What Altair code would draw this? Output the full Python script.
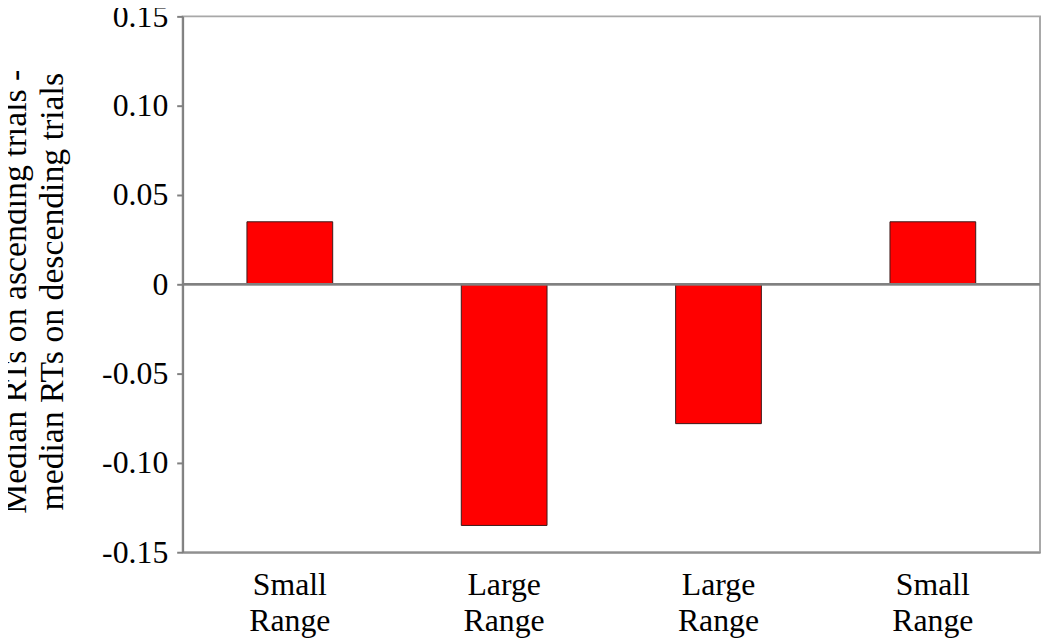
import json
import altair as alt
import pandas as pd

categories = ["Small Range", "Large Range", "Large Range", "Small Range"]
values = [0.035, -0.135, -0.078, 0.035]
y_ticks = [0.15, 0.10, 0.05, 0, -0.05, -0.10, -0.15]

df = pd.DataFrame({"idx": list(range(len(categories))), "cat": categories, "value": values})

label_arr = json.dumps([c.split(" ") for c in categories])
FONT = "Liberation Serif, Times New Roman, serif"

x_axis = alt.Axis(
    title=None,
    labelAngle=0,
    labelExpr=f"{label_arr}[datum.value]",
    labelFont=FONT,
    labelFontSize=32,
    labelColor="#000",
    labelLineHeight=36,
    labelPadding=18,
    labelBaseline="top",
    ticks=False,
    domainColor="#909090",
    domainWidth=2,
)

y_axis = alt.Axis(
    title=["Median RTs on ascending trials -", "median RTs on descending trials"],
    values=y_ticks,
    labelExpr="datum.value == 0 ? '0' : replace(format(datum.value, '.2f'), '\u2212', '-')",
    labelFont=FONT,
    labelFontSize=32,
    labelColor="#000",
    labelPadding=9,
    tickSize=6,
    tickColor="#808080",
    tickWidth=2,
    domainColor="#808080",
    domainWidth=2,
    grid=False,
    titleFont=FONT,
    titleFontSize=34,
    titleFontWeight="normal",
    titleColor="#000",
    titleLineHeight=37,
    titleAngle=270,
    titleAlign="center",
    titleBaseline="alphabetic",
    titleX=-158,
    titleY=277,
)

bars = alt.Chart(df).mark_bar(color="#ff0000", stroke="#3a1a1a", strokeWidth=1).encode(
    x=alt.X("idx:O", axis=x_axis, scale=alt.Scale(paddingInner=0.6, paddingOuter=0.3)),
    y=alt.Y("value:Q", axis=y_axis, scale=alt.Scale(domain=[-0.15, 0.15], nice=False)),
)

zero = alt.Chart(df).mark_rule(color="#808080", strokeWidth=2).encode(y=alt.datum(0))

chart = (
    alt.layer(bars, zero)
    .properties(
        width=864,
        height=540,
        autosize=alt.AutoSizeParams(type="none"),
        padding={"left": 176, "top": 6, "right": 2, "bottom": 85},
        background="white",
    )
    .configure(font=FONT)
    .configure_view(stroke="#a8a8a8", strokeWidth=2)
)

chart.save("out.html", embed_options={"renderer": "svg", "actions": False})
